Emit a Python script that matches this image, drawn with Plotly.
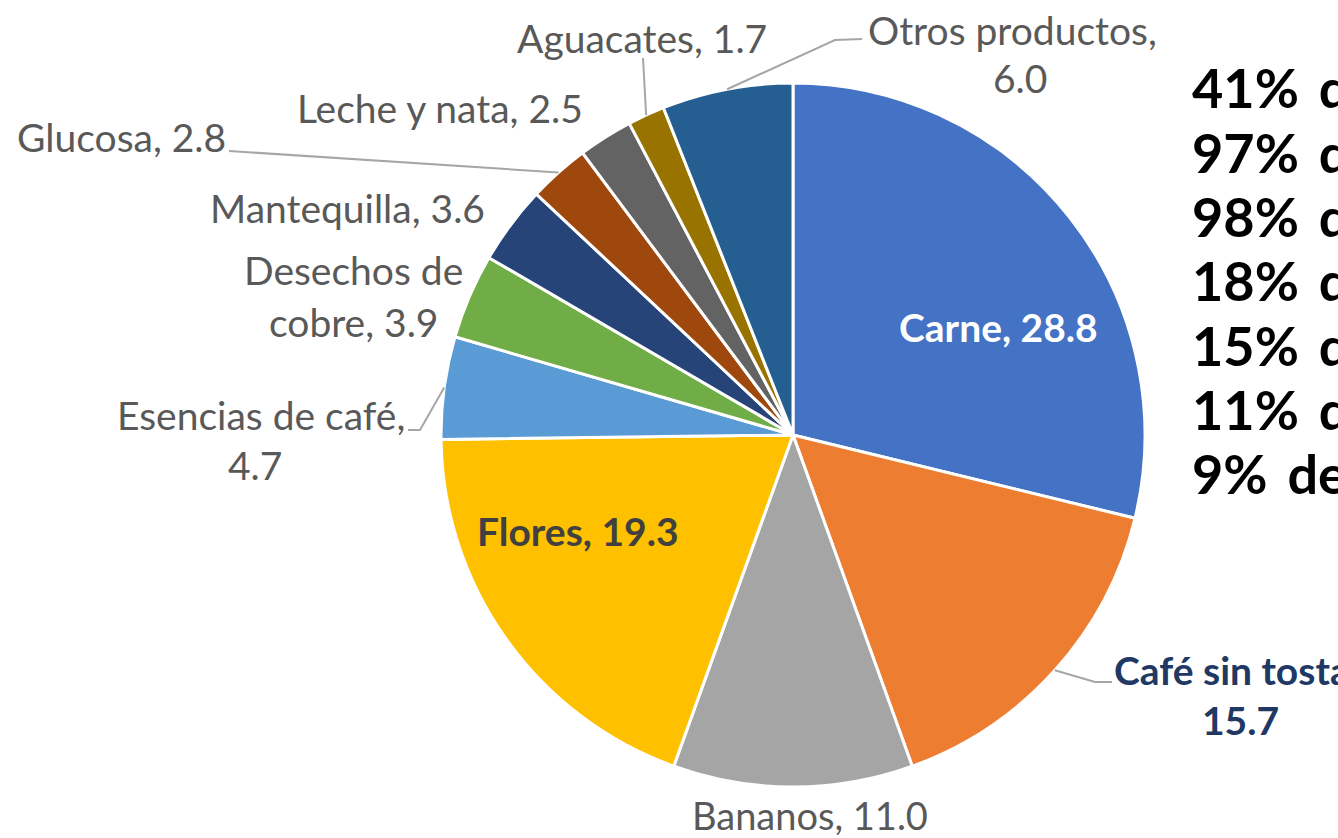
import math
import plotly.graph_objects as go

# Export shares by product (%), listed clockwise from 12 o'clock
products = ["Carne", "Café sin tostar", "Bananos", "Flores", "Esencias de café",
            "Desechos de cobre", "Mantequilla", "Glucosa", "Leche y nata",
            "Aguacates", "Otros productos"]
shares = [28.8, 15.7, 11.0, 19.3, 4.7, 3.9, 3.6, 2.8, 2.5, 1.7, 6.0]
colors = ["#4472C4", "#ED7D31", "#A5A5A5", "#FFC000", "#5B9BD5", "#70AD47",
          "#264478", "#9E480E", "#636363", "#997300", "#255E91"]

# Side notes
side_notes = ["41%\u2009 de", "97%\u2009 de", "98%\u2009 de", "18%\u2009 de",
              "15%\u2009 de", "11%\u2009 de", "9%\u2009 de"]

W, H = 1338, 838
CX, CY, R = 793, 435, 352          # pie centre and radius in pixels


def px(x):
    return x / W


def py(y):
    return 1 - y / H


fig = go.Figure(go.Pie(
    labels=products,
    values=shares,
    sort=False,
    direction="clockwise",
    rotation=0,
    marker=dict(colors=colors, line=dict(color="white", width=3)),
    textinfo="none",
    hoverinfo="label+value",
    domain=dict(x=[px(CX - R), px(CX + R)], y=[py(CY + R), py(CY - R)]),
    showlegend=False,
))

# Mid-angle of each slice (degrees clockwise from top) -> point on the rim
total = sum(shares)
mid = {}
acc = 0.0
for name, v in zip(products, shares):
    mid[name] = (acc + v / 2) / total * 360.0
    acc += v


def rim(name):
    a = math.radians(mid[name])
    return CX + R * math.sin(a), CY - R * math.cos(a)


GRAY = "#595959"
FONT = "Lato, 'Open Sans', sans-serif"

annotations = []


def label(text, x, y, color=GRAY, size=39, bold=False, xanchor="center"):
    if bold:
        text = f"<b>{text}</b>"
    annotations.append(dict(
        text=text, x=px(x), y=py(y), xref="paper", yref="paper",
        xanchor=xanchor, yanchor="middle", showarrow=False,
        font=dict(family=FONT, size=size, color=color),
    ))


def value_text(name):
    return f"{shares[products.index(name)]:.1f}"


# Outside labels
label("Otros productos,", 1012, 30)
label(value_text("Otros productos"), 1020, 78)
label(f"Aguacates, {value_text('Aguacates')}", 642, 38)
label(f"Leche y nata, {value_text('Leche y nata')}", 440, 108)
label(f"Glucosa, {value_text('Glucosa')}", 121, 137)
label(f"Mantequilla, {value_text('Mantequilla')}", 347, 208)
label("Desechos de", 353, 270)
label(f"cobre, {value_text('Desechos de cobre')}", 354, 322)
label("Esencias de café,", 261, 415)
label(value_text("Esencias de café"), 255, 465)
label(f"Bananos, {value_text('Bananos')}", 810, 815, size=38)
label("Café sin tostar,", 1243, 670, color="#203864", bold=True)
label(value_text("Café sin tostar"), 1240, 720, color="#203864", bold=True)

# Inside labels
label(f"Carne, {value_text('Carne')}", 998, 327, color="white", bold=True)
label(f"Flores, {value_text('Flores')}", 578, 531, color="#404040", bold=True)

# Side notes column
for i, note in enumerate(side_notes):
    label(note, 1190, 88 + i * 64.3, color="black", size=54, bold=True, xanchor="left")

# Leader lines: from slice rim to the label
leaders = {
    "Otros productos": [(835, 40), (862, 39)],
    "Aguacates": [(643, 58)],
    "Glucosa": [(229, 151)],
    "Esencias de café": [(420, 430), (408, 430)],
    "Café sin tostar": [(1095, 682), (1112, 682)],
}
shapes = []
for name, pts in leaders.items():
    x0, y0 = rim(name)
    path = f"M {px(x0)} {py(y0)}"
    for x, y in pts:
        path += f" L {px(x)} {py(y)}"
    shapes.append(dict(type="path", path=path, xref="paper", yref="paper",
                       line=dict(color="#A6A6A6", width=2)))

fig.update_layout(
    width=W, height=H,
    margin=dict(l=0, r=0, t=0, b=0),
    paper_bgcolor="white",
    plot_bgcolor="white",
    annotations=annotations,
    shapes=shapes,
)

fig.write_html("out.html")
